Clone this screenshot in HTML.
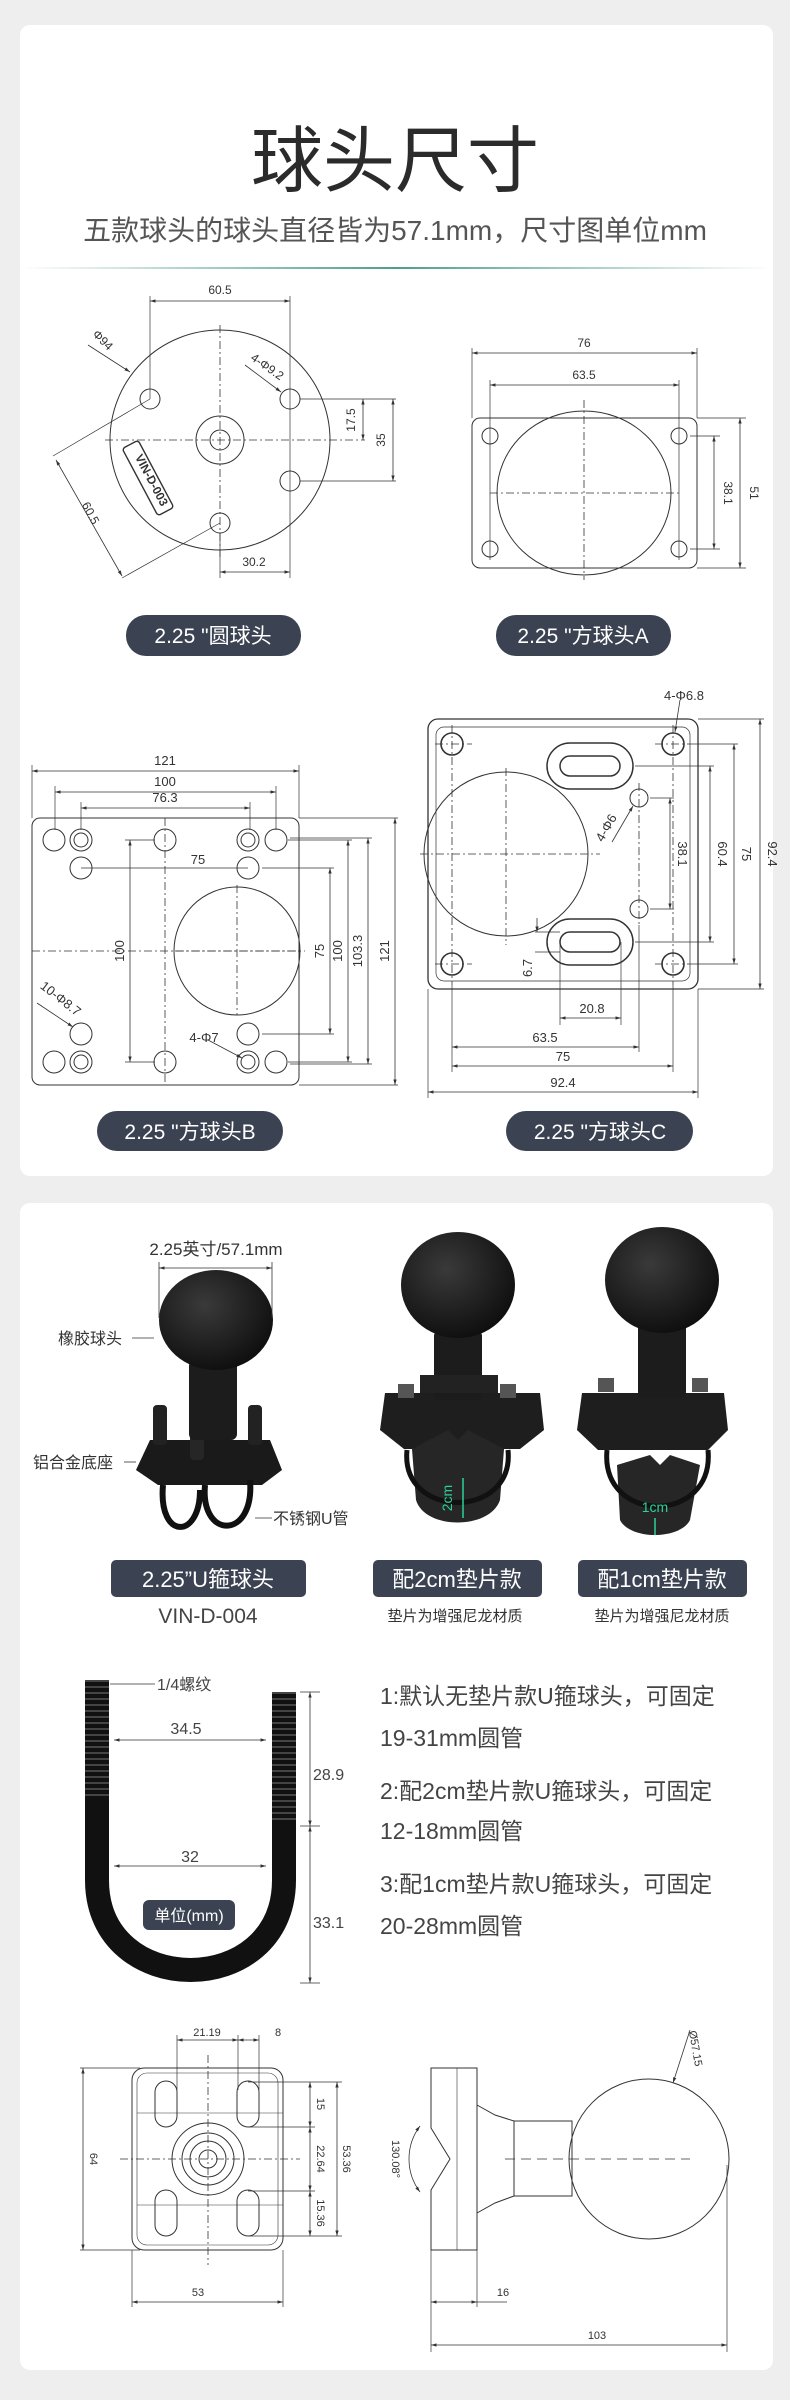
<!DOCTYPE html>
<html><head><meta charset="utf-8"><style>
html,body{margin:0;padding:0;background:#eeeeee;}
svg{display:block;}
text{font-family:"Liberation Sans","Noto Sans CJK SC",sans-serif;}
</style></head><body>
<svg width="790" height="2400" viewBox="0 0 790 2400" xmlns="http://www.w3.org/2000/svg">
<defs>
<marker id="a" viewBox="0 0 10 10" refX="10" refY="5" markerWidth="7" markerHeight="7" orient="auto-start-reverse"><path d="M0,2 L10,5 L0,8 z" fill="#333"/></marker>
<linearGradient id="g" x1="0" x2="1"><stop offset="0" stop-color="#fff"/><stop offset="0.5" stop-color="#4e9e90"/><stop offset="1" stop-color="#fff"/></linearGradient>
<radialGradient id="ball" cx="0.4" cy="0.35" r="0.7"><stop offset="0" stop-color="#3a3a3a"/><stop offset="1" stop-color="#0d0d0d"/></radialGradient>
</defs>
<rect x="20" y="25" width="753" height="1151" rx="10" fill="#fff"/>
<rect x="20" y="1203" width="753" height="1167" rx="10" fill="#fff"/>
<text x="395" y="186" font-size="72" text-anchor="middle" fill="#2b2b2b">球头尺寸</text>
<text x="395" y="240" font-size="28" text-anchor="middle" fill="#555">五款球头的球头直径皆为57.1mm，尺寸图单位mm</text>
<rect x="20" y="267" width="753" height="2" fill="url(#g)"/>

<g fill="none" stroke="#333" stroke-width="1">
<!-- round -->
<circle cx="220" cy="440" r="110"/>
<circle cx="150" cy="399" r="10"/><circle cx="290" cy="399" r="10"/><circle cx="290" cy="481" r="10"/><circle cx="220" cy="523" r="10"/>
<circle cx="220" cy="440" r="24"/><circle cx="220" cy="440" r="10"/>
<g stroke-dasharray="8 3 2 3" stroke-width="0.8"><line x1="105" y1="440" x2="365" y2="440"/><line x1="220" y1="325" x2="220" y2="560"/></g>
<g stroke-width="0.7"><line x1="150" y1="296" x2="150" y2="399"/><line x1="290" y1="296" x2="290" y2="578"/><line x1="300" y1="399" x2="396" y2="399"/><line x1="300" y1="481" x2="396" y2="481"/><line x1="220" y1="533" x2="220" y2="578"/>
<line x1="53" y1="456" x2="150" y2="399"/><line x1="122" y1="578" x2="220" y2="523"/></g>
<g stroke-width="0.8" marker-start="url(#a)" marker-end="url(#a)"><line x1="150" y1="301" x2="290" y2="301"/><line x1="363" y1="399" x2="363" y2="440"/><line x1="393" y1="399" x2="393" y2="481"/><line x1="220" y1="572" x2="290" y2="572"/><line x1="56" y1="460" x2="122" y2="576"/></g>
<line x1="88" y1="345" x2="130" y2="372" stroke-width="0.8" marker-end="url(#a)"/>
<line x1="245" y1="365" x2="281" y2="392" stroke-width="0.8" marker-end="url(#a)"/>
<rect x="-38" y="-9" width="76" height="18" rx="3" transform="translate(148,478) rotate(62)" stroke-width="1.4"/>
</g>
<g font-size="12" fill="#333" text-anchor="middle">
<text x="220" y="294">60.5</text>
<text x="355" y="420" transform="rotate(-90 355 420)">17.5</text>
<text x="385" y="440" transform="rotate(-90 385 440)">35</text>
<text x="254" y="566">30.2</text>
<text x="100" y="343" transform="rotate(45 100 343)">Φ94</text>
<text x="265" y="370" transform="rotate(35 265 370)">4-Φ9.2</text>
<text x="87" y="515" transform="rotate(62 87 515)">60.5</text>
<text x="148" y="482" transform="rotate(62 148 482)" font-weight="bold" font-size="12">VIN-D-003</text>
</g>

<!-- square A -->
<g fill="none" stroke="#333" stroke-width="1">
<rect x="472" y="418" width="225" height="150" rx="8"/>
<ellipse cx="584" cy="493" rx="87" ry="82"/>
<circle cx="490" cy="436" r="8"/><circle cx="679" cy="436" r="8"/><circle cx="490" cy="549" r="8"/><circle cx="679" cy="549" r="8"/>
<g stroke-dasharray="8 3 2 3" stroke-width="0.8"><line x1="490" y1="493" x2="680" y2="493"/><line x1="584" y1="400" x2="584" y2="580"/></g>
<g stroke-width="0.7"><line x1="472" y1="348" x2="472" y2="418"/><line x1="697" y1="348" x2="697" y2="418"/><line x1="490" y1="380" x2="490" y2="560"/><line x1="679" y1="380" x2="679" y2="560"/><line x1="690" y1="436" x2="720" y2="436"/><line x1="690" y1="549" x2="720" y2="549"/><line x1="697" y1="418" x2="746" y2="418"/><line x1="697" y1="568" x2="746" y2="568"/></g>
<g stroke-width="0.8" marker-start="url(#a)" marker-end="url(#a)"><line x1="472" y1="353" x2="697" y2="353"/><line x1="490" y1="385" x2="679" y2="385"/><line x1="714" y1="436" x2="714" y2="549"/><line x1="740" y1="418" x2="740" y2="568"/></g>
</g>
<g font-size="12" fill="#333" text-anchor="middle">
<text x="584" y="347">76</text><text x="584" y="379">63.5</text>
<text x="724" y="493" transform="rotate(90 724 493)">38.1</text>
<text x="750" y="493" transform="rotate(90 750 493)">51</text>
</g>

<!-- square B -->
<g fill="none" stroke="#333" stroke-width="1">
<rect x="32" y="818" width="267" height="267" rx="8"/>
<ellipse cx="237" cy="951" rx="63" ry="64"/>
<g>
<circle cx="54" cy="840" r="11"/><circle cx="81" cy="840" r="11"/><circle cx="81" cy="840" r="7"/><circle cx="165" cy="840" r="11"/><circle cx="248" cy="840" r="11"/><circle cx="248" cy="840" r="7"/><circle cx="276" cy="840" r="11"/>
<circle cx="81" cy="868" r="11"/><circle cx="248" cy="868" r="11"/><circle cx="81" cy="1034" r="11"/><circle cx="248" cy="1034" r="11"/>
<circle cx="54" cy="1062" r="11"/><circle cx="81" cy="1062" r="11"/><circle cx="81" cy="1062" r="7"/><circle cx="165" cy="1062" r="11"/><circle cx="248" cy="1062" r="11"/><circle cx="248" cy="1062" r="7"/><circle cx="276" cy="1062" r="11"/>
</g>
<g stroke-dasharray="8 3 2 3" stroke-width="0.8"><line x1="32" y1="951" x2="305" y2="951"/><line x1="165" y1="818" x2="165" y2="1085"/><line x1="237" y1="885" x2="237" y2="1015"/><line x1="175" y1="951" x2="300" y2="951"/></g>
<g stroke-width="0.7"><line x1="32" y1="765" x2="32" y2="818"/><line x1="299" y1="765" x2="299" y2="818"/><line x1="55" y1="786" x2="55" y2="830"/><line x1="276" y1="786" x2="276" y2="830"/><line x1="81" y1="802" x2="81" y2="830"/><line x1="250" y1="802" x2="250" y2="830"/>
<line x1="81" y1="868" x2="248" y2="868"/><line x1="125" y1="840" x2="155" y2="840"/><line x1="125" y1="1062" x2="155" y2="1062"/>
<line x1="262" y1="868" x2="334" y2="868"/><line x1="262" y1="1034" x2="334" y2="1034"/><line x1="288" y1="840" x2="352" y2="840"/><line x1="288" y1="1062" x2="352" y2="1062"/><line x1="290" y1="838" x2="372" y2="838"/><line x1="290" y1="1064" x2="372" y2="1064"/><line x1="299" y1="818" x2="398" y2="818"/><line x1="299" y1="1085" x2="398" y2="1085"/></g>
<g stroke-width="0.8" marker-start="url(#a)" marker-end="url(#a)"><line x1="32" y1="771" x2="299" y2="771"/><line x1="55" y1="792" x2="276" y2="792"/><line x1="81" y1="808" x2="250" y2="808"/><line x1="130" y1="840" x2="130" y2="1062"/><line x1="330" y1="868" x2="330" y2="1034"/><line x1="348" y1="840" x2="348" y2="1062"/><line x1="368" y1="838" x2="368" y2="1064"/><line x1="395" y1="818" x2="395" y2="1085"/></g>
<line x1="37" y1="1003" x2="73" y2="1027" stroke-width="0.8" marker-end="url(#a)"/>
<line x1="208" y1="1040" x2="242" y2="1058" stroke-width="0.8" marker-end="url(#a)"/>
</g>
<g font-size="13" fill="#333" text-anchor="middle">
<text x="165" y="765">121</text><text x="165" y="786">100</text><text x="165" y="802">76.3</text><text x="198" y="864">75</text>
<text x="124" y="951" transform="rotate(-90 124 951)">100</text>
<text x="324" y="951" transform="rotate(-90 324 951)">75</text>
<text x="342" y="951" transform="rotate(-90 342 951)">100</text>
<text x="362" y="951" transform="rotate(-90 362 951)">103.3</text>
<text x="389" y="951" transform="rotate(-90 389 951)">121</text>
<text x="58" y="1002" transform="rotate(38 58 1002)">10-Φ8.7</text>
<text x="204" y="1042">4-Φ7</text>
</g>

<!-- square C -->
<g fill="none" stroke="#333" stroke-width="1">
<rect x="428" y="719" width="270" height="270" rx="10" stroke-width="1.3"/>
<rect x="436" y="727" width="254" height="254" rx="8" stroke-width="0.7"/>
<ellipse cx="506" cy="854" rx="82" ry="82"/>
<circle cx="452" cy="744" r="11" stroke-width="1.6"/><circle cx="673" cy="744" r="11" stroke-width="1.6"/><circle cx="452" cy="964" r="11" stroke-width="1.6"/><circle cx="673" cy="964" r="11" stroke-width="1.6"/>
<circle cx="639" cy="798" r="9"/><circle cx="639" cy="909" r="9"/>
<rect x="547" y="743" width="86" height="46" rx="23" stroke-width="1.5"/><rect x="560" y="756" width="60" height="20" rx="10" stroke-width="1.5"/>
<rect x="547" y="919" width="86" height="46" rx="23" stroke-width="1.5"/><rect x="560" y="932" width="60" height="20" rx="10" stroke-width="1.5"/>
<g stroke-dasharray="8 3 2 3" stroke-width="0.8"><line x1="420" y1="854" x2="600" y2="854"/><line x1="506" y1="768" x2="506" y2="945"/><line x1="435" y1="744" x2="472" y2="744"/><line x1="655" y1="744" x2="690" y2="744"/><line x1="435" y1="964" x2="472" y2="964"/><line x1="655" y1="964" x2="690" y2="964"/><line x1="452" y1="725" x2="452" y2="985"/><line x1="673" y1="725" x2="673" y2="985"/><line x1="639" y1="783" x2="639" y2="925"/></g>
<g stroke-width="0.7"><line x1="650" y1="798" x2="674" y2="798"/><line x1="650" y1="909" x2="674" y2="909"/><line x1="635" y1="766" x2="714" y2="766"/><line x1="635" y1="942" x2="714" y2="942"/><line x1="690" y1="744" x2="738" y2="744"/><line x1="690" y1="964" x2="738" y2="964"/><line x1="698" y1="719" x2="764" y2="719"/><line x1="698" y1="989" x2="764" y2="989"/>
<line x1="560" y1="942" x2="560" y2="1025"/><line x1="621" y1="942" x2="621" y2="1025"/><line x1="452" y1="985" x2="452" y2="1072"/><line x1="639" y1="925" x2="639" y2="1052"/><line x1="673" y1="985" x2="673" y2="1072"/><line x1="428" y1="989" x2="428" y2="1098"/><line x1="698" y1="989" x2="698" y2="1098"/><line x1="535" y1="932" x2="560" y2="932"/><line x1="535" y1="952" x2="560" y2="952"/></g>
<g stroke-width="0.8" marker-start="url(#a)" marker-end="url(#a)"><line x1="670" y1="798" x2="670" y2="909"/><line x1="710" y1="766" x2="710" y2="942"/><line x1="734" y1="744" x2="734" y2="964"/><line x1="760" y1="719" x2="760" y2="989"/><line x1="560" y1="1018" x2="621" y2="1018"/><line x1="452" y1="1047" x2="639" y2="1047"/><line x1="452" y1="1066" x2="673" y2="1066"/><line x1="428" y1="1092" x2="698" y2="1092"/></g>
<line x1="537" y1="918" x2="537" y2="932" stroke-width="0.8" marker-end="url(#a)"/>
<line x1="680" y1="700" x2="675" y2="732" stroke-width="0.8" marker-end="url(#a)"/>
<line x1="612" y1="842" x2="633" y2="806" stroke-width="0.8" marker-end="url(#a)"/>
</g>
<g font-size="13" fill="#333" text-anchor="middle">
<text x="684" y="700">4-Φ6.8</text>
<text x="610" y="830" transform="rotate(-60 610 830)">4-Φ6</text>
<text x="678" y="854" transform="rotate(90 678 854)">38.1</text>
<text x="718" y="854" transform="rotate(90 718 854)">60.4</text>
<text x="742" y="854" transform="rotate(90 742 854)">75</text>
<text x="768" y="854" transform="rotate(90 768 854)">92.4</text>
<text x="532" y="968" transform="rotate(-90 532 968)">6.7</text>
<text x="592" y="1013">20.8</text><text x="545" y="1042">63.5</text><text x="563" y="1061">75</text><text x="563" y="1087">92.4</text>
</g>

<!-- pills section 1 -->
<g fill="#3b4252">
<rect x="126" y="615" width="175" height="41" rx="20"/>
<rect x="496" y="615" width="175" height="41" rx="20"/>
<rect x="97" y="1111" width="186" height="40" rx="20"/>
<rect x="506" y="1111" width="187" height="40" rx="20"/>
</g>
<g font-size="21" fill="#fff" text-anchor="middle">
<text x="213" y="643">2.25 "圆球头</text>
<text x="583" y="643">2.25 "方球头A</text>
<text x="190" y="1139">2.25 "方球头B</text>
<text x="600" y="1139">2.25 "方球头C</text>
</g>

<!-- products -->
<g>
<!-- product 1 -->
<path d="M150 1440 L270 1440 L282 1470 L262 1485 L158 1485 L136 1470 Z" fill="#1a1a1a"/>
<path d="M163 1485 C158 1540 200 1540 200 1490 M205 1485 C200 1540 255 1540 250 1480" fill="none" stroke="#111" stroke-width="6"/>
<rect x="153" y="1405" width="14" height="40" rx="4" fill="#222"/><rect x="248" y="1405" width="14" height="40" rx="4" fill="#222"/><rect x="190" y="1420" width="14" height="40" rx="4" fill="#262626"/>
<rect x="189" y="1360" width="48" height="80" rx="6" fill="#1c1c1c"/>
<ellipse cx="216" cy="1320" rx="57" ry="50" fill="url(#ball)"/>
<!-- product 2 -->
<path d="M385 1393 L540 1393 L544 1430 L520 1449 L404 1449 L380 1430 Z" fill="#1e1e1e"/>
<path d="M412 1449 L448 1430 L458 1440 L468 1430 L504 1449 L500 1500 C490 1530 425 1530 416 1500 Z" fill="#262626"/>
<path d="M407 1450 C400 1520 515 1520 508 1450" fill="none" stroke="#111" stroke-width="5"/>
<rect x="434" y="1330" width="48" height="70" rx="6" fill="#1c1c1c"/>
<path d="M420 1393 L420 1375 L498 1375 L498 1393Z" fill="#222"/>
<rect x="398" y="1384" width="16" height="14" fill="#555"/><rect x="500" y="1384" width="16" height="14" fill="#555"/>
<ellipse cx="458" cy="1285" rx="57" ry="53" fill="url(#ball)"/>
<line x1="463" y1="1478" x2="463" y2="1518" stroke="#2bd19a" stroke-width="1.5"/>
<text x="452" y="1498" font-size="14" fill="#2bd19a" transform="rotate(-90 452 1498)" text-anchor="middle">2cm</text>
<!-- product 3 -->
<path d="M582 1393 L724 1393 L728 1430 L708 1450 L598 1450 L577 1430 Z" fill="#1e1e1e"/>
<path d="M617 1465 L650 1455 L660 1465 L670 1455 L700 1465 L690 1520 C680 1540 630 1540 620 1520 Z" fill="#262626"/>
<path d="M607 1450 C600 1525 715 1525 708 1450" fill="none" stroke="#111" stroke-width="5"/>
<rect x="638" y="1320" width="48" height="78" rx="6" fill="#1c1c1c"/>
<rect x="598" y="1378" width="16" height="14" fill="#555"/><rect x="692" y="1378" width="16" height="14" fill="#555"/>
<ellipse cx="662" cy="1280" rx="57" ry="53" fill="url(#ball)"/>
<line x1="655" y1="1518" x2="655" y2="1535" stroke="#2bd19a" stroke-width="1.5"/>
<text x="655" y="1512" font-size="14" fill="#2bd19a" text-anchor="middle">1cm</text>
</g>
<g stroke="#333" stroke-width="0.8" fill="none">
<line x1="159" y1="1268" x2="272" y2="1268" marker-start="url(#a)" marker-end="url(#a)"/>
<line x1="159" y1="1262" x2="159" y2="1318"/><line x1="272" y1="1262" x2="272" y2="1318"/>
<line x1="132" y1="1338" x2="154" y2="1338"/><line x1="124" y1="1462" x2="136" y2="1462"/><line x1="255" y1="1518" x2="272" y2="1518"/>
</g>
<g font-size="16" fill="#333">
<text x="216" y="1255" text-anchor="middle" font-size="17">2.25英寸/57.1mm</text>
<text x="58" y="1344">橡胶球头</text>
<text x="33" y="1468">铝合金底座</text>
<text x="273" y="1524">不锈钢U管</text>
</g>
<g fill="#3b4252">
<rect x="111" y="1560" width="195" height="37" rx="5"/>
<rect x="373" y="1560" width="169" height="37" rx="5"/>
<rect x="578" y="1560" width="169" height="37" rx="5"/>
</g>
<g font-size="22" fill="#fff" text-anchor="middle">
<text x="208" y="1587">2.25”U箍球头</text>
<text x="457" y="1587">配2cm垫片款</text>
<text x="662" y="1587">配1cm垫片款</text>
</g>
<text x="208" y="1623" font-size="21" fill="#444" text-anchor="middle">VIN-D-004</text>
<text x="455" y="1621" font-size="15" fill="#333" text-anchor="middle">垫片为增强尼龙材质</text>
<text x="662" y="1621" font-size="15" fill="#333" text-anchor="middle">垫片为增强尼龙材质</text>

<!-- U bolt -->
<path d="M97 1680 L97 1880 C97 2000 284 2000 284 1880 L284 1692" fill="none" stroke="#111" stroke-width="24"/>
<path d="M97 1680 L97 1800 M284 1692 L284 1820" fill="none" stroke="#444" stroke-width="24" stroke-dasharray="2 4"/>
<g stroke="#333" stroke-width="0.8" fill="none">
<line x1="110" y1="1684" x2="155" y2="1684"/>
<line x1="114" y1="1740" x2="266" y2="1740" marker-start="url(#a)" marker-end="url(#a)"/>
<line x1="114" y1="1866" x2="266" y2="1866" marker-start="url(#a)" marker-end="url(#a)"/>
<line x1="310" y1="1692" x2="310" y2="1826" marker-start="url(#a)" marker-end="url(#a)"/>
<line x1="310" y1="1826" x2="310" y2="1983" marker-start="url(#a)" marker-end="url(#a)"/>
<line x1="300" y1="1692" x2="320" y2="1692"/><line x1="300" y1="1826" x2="320" y2="1826"/><line x1="300" y1="1983" x2="320" y2="1983"/>
</g>
<g font-size="16" fill="#444">
<text x="157" y="1690">1/4螺纹</text>
<text x="186" y="1734" text-anchor="middle">34.5</text>
<text x="190" y="1862" text-anchor="middle">32</text>
<text x="313" y="1780">28.9</text>
<text x="313" y="1928">33.1</text>
</g>
<rect x="143" y="1900" width="92" height="30" rx="6" fill="#3b4252"/>
<text x="189" y="1921" font-size="16" fill="#fff" text-anchor="middle">单位(mm)</text>
<g font-size="23" fill="#444">
<text x="380" y="1704">1:默认无垫片款U箍球头，可固定</text>
<text x="380" y="1746">19-31mm圆管</text>
<text x="380" y="1799">2:配2cm垫片款U箍球头，可固定</text>
<text x="380" y="1839">12-18mm圆管</text>
<text x="380" y="1892">3:配1cm垫片款U箍球头，可固定</text>
<text x="380" y="1934">20-28mm圆管</text>
</g>

<!-- bottom drawings -->
<g fill="none" stroke="#333" stroke-width="1">
<rect x="132" y="2068" width="151" height="182" rx="12"/>
<rect x="137" y="2073" width="141" height="172" rx="10" stroke-width="0.6"/>
<rect x="155" y="2081" width="22" height="46" rx="11"/><rect x="237" y="2081" width="22" height="46" rx="11"/>
<rect x="155" y="2190" width="22" height="46" rx="11"/><rect x="237" y="2190" width="22" height="46" rx="11"/>
<ellipse cx="208" cy="2159" rx="36" ry="36"/><ellipse cx="208" cy="2159" rx="26" ry="26"/><ellipse cx="208" cy="2159" rx="18" ry="18"/><circle cx="208" cy="2159" r="9"/>
<line x1="137" y1="2113" x2="283" y2="2113" stroke-width="0.6"/><line x1="137" y1="2205" x2="283" y2="2205" stroke-width="0.6"/>
<g stroke-dasharray="8 3 2 3" stroke-width="0.8"><line x1="120" y1="2159" x2="300" y2="2159"/><line x1="208" y1="2055" x2="208" y2="2265"/></g>
<g stroke-width="0.7"><line x1="177" y1="2035" x2="177" y2="2090"/><line x1="238" y1="2035" x2="238" y2="2090"/><line x1="259" y1="2035" x2="259" y2="2090"/>
<line x1="80" y1="2068" x2="140" y2="2068"/><line x1="80" y1="2250" x2="140" y2="2250"/>
<line x1="248" y1="2082" x2="342" y2="2082"/><line x1="248" y1="2127" x2="315" y2="2127"/><line x1="248" y1="2191" x2="315" y2="2191"/><line x1="248" y1="2236" x2="342" y2="2236"/>
<line x1="132" y1="2250" x2="132" y2="2307"/><line x1="283" y1="2250" x2="283" y2="2307"/></g>
<g stroke-width="0.8" marker-start="url(#a)" marker-end="url(#a)"><line x1="177" y1="2040" x2="238" y2="2040"/><line x1="238" y1="2040" x2="259" y2="2040"/><line x1="83" y1="2068" x2="83" y2="2250"/><line x1="310" y1="2082" x2="310" y2="2127"/><line x1="310" y1="2127" x2="310" y2="2191"/><line x1="310" y1="2191" x2="310" y2="2236"/><line x1="337" y1="2082" x2="337" y2="2236"/><line x1="132" y1="2302" x2="283" y2="2302"/></g>
<!-- right side view -->
<path d="M431 2068 L477 2068 L477 2250 L431 2250 L431 2190 L450 2159 L431 2128 Z"/>
<line x1="457" y1="2068" x2="457" y2="2250" stroke-width="0.6"/>
<path d="M477 2105 L495 2115 L514 2121 L514 2196 L495 2203 L477 2213"/>
<rect x="514" y="2121" width="58" height="75"/>
<circle cx="649" cy="2159" r="80"/>
<path d="M420 2192 A55 55 0 0 1 420 2126" marker-start="url(#a)" marker-end="url(#a)" stroke-width="0.8"/>
<line x1="505" y1="2159" x2="690" y2="2159" stroke-dasharray="10 6" stroke-width="0.8"/>
<g stroke-width="0.7"><line x1="431" y1="2250" x2="431" y2="2352"/><line x1="477" y1="2250" x2="477" y2="2307"/><line x1="727" y1="2165" x2="727" y2="2352"/><line x1="477" y1="2302" x2="507" y2="2302"/></g>
<g stroke-width="0.8" marker-start="url(#a)" marker-end="url(#a)"><line x1="431" y1="2302" x2="477" y2="2302"/><line x1="431" y1="2345" x2="727" y2="2345"/></g>
<line x1="690" y1="2030" x2="673" y2="2083" stroke-width="0.8" marker-end="url(#a)"/>
</g>
<g font-size="11" fill="#333" text-anchor="middle">
<text x="207" y="2036">21.19</text><text x="278" y="2036">8</text>
<text x="90" y="2159" transform="rotate(90 90 2159)">64</text>
<text x="317" y="2104" transform="rotate(90 317 2104)">15</text>
<text x="317" y="2159" transform="rotate(90 317 2159)">22.64</text>
<text x="317" y="2213" transform="rotate(90 317 2213)">15.36</text>
<text x="343" y="2159" transform="rotate(90 343 2159)">53.36</text>
<text x="198" y="2296">53</text>
<text x="392" y="2159" transform="rotate(90 392 2159)">130.08°</text>
<text x="503" y="2296">16</text><text x="597" y="2339">103</text>
<text x="692" y="2049" transform="rotate(80 692 2049)">Ø57.15</text>
</g>
</svg>
</body></html>
